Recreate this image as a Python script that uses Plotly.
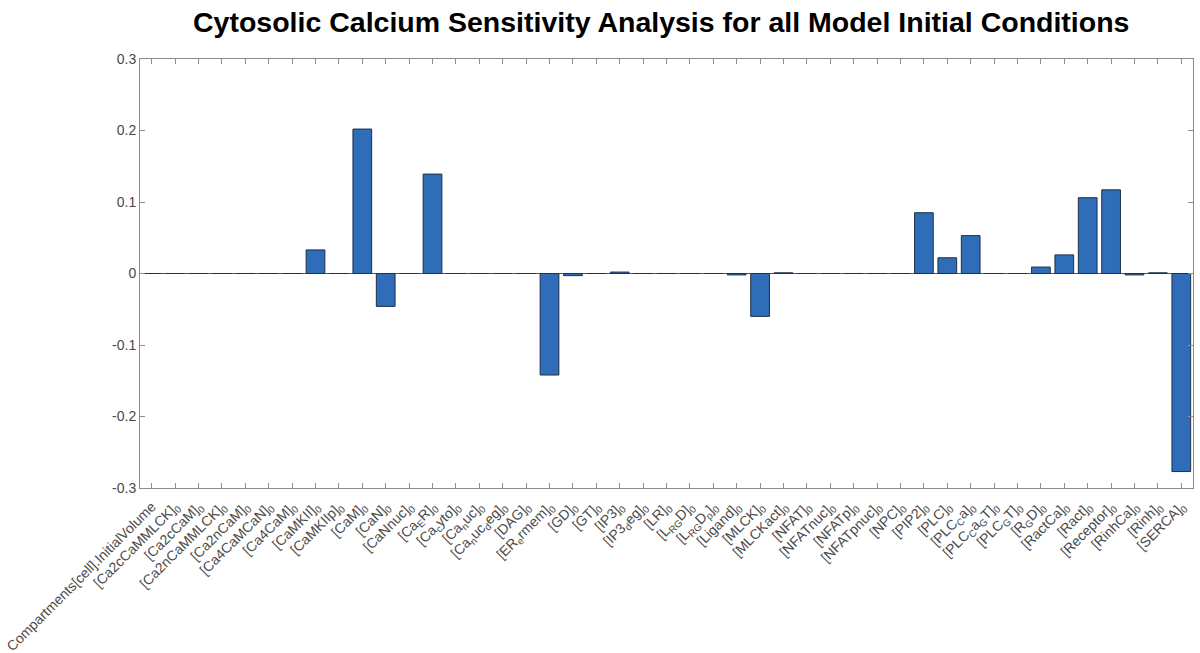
import plotly.graph_objects as go

# Initial-condition parameters (tick labels, with TeX-style subscripts as HTML)
labels = [
    "Compartments[cell].InitialVolume",
    "[Ca2cCaMMLCK]<sub>0</sub>",
    "[Ca2cCaM]<sub>0</sub>",
    "[Ca2nCaMMLCK]<sub>0</sub>",
    "[Ca2nCaM]<sub>0</sub>",
    "[Ca4CaMCaN]<sub>0</sub>",
    "[Ca4CaM]<sub>0</sub>",
    "[CaMKII]<sub>0</sub>",
    "[CaMKIIp]<sub>0</sub>",
    "[CaM]<sub>0</sub>",
    "[CaN]<sub>0</sub>",
    "[CaNnuc]<sub>0</sub>",
    "[Ca<sub>E</sub>R]<sub>0</sub>",
    "[Ca<sub>c</sub>yto]<sub>0</sub>",
    "[Ca<sub>n</sub>uc]<sub>0</sub>",
    "[Ca<sub>n</sub>uc<sub>d</sub>eg]<sub>0</sub>",
    "[DAG]<sub>0</sub>",
    "[ER<sub>e</sub>rmem]<sub>0</sub>",
    "[GD]<sub>0</sub>",
    "[GT]<sub>0</sub>",
    "[IP3]<sub>0</sub>",
    "[IP3<sub>d</sub>eg]<sub>0</sub>",
    "[LR]<sub>0</sub>",
    "[L<sub>RG</sub>D]<sub>0</sub>",
    "[L<sub>RG</sub>D<sub>p</sub>]<sub>0</sub>",
    "[Ligand]<sub>0</sub>",
    "[MLCK]<sub>0</sub>",
    "[MLCKact]<sub>0</sub>",
    "[NFAT]<sub>0</sub>",
    "[NFATnuc]<sub>0</sub>",
    "[NFATp]<sub>0</sub>",
    "[NFATpnuc]<sub>0</sub>",
    "[NPC]<sub>0</sub>",
    "[PIP2]<sub>0</sub>",
    "[PLC]<sub>0</sub>",
    "[PLC<sub>C</sub>a]<sub>0</sub>",
    "[PLC<sub>C</sub>a<sub>G</sub>T]<sub>0</sub>",
    "[PLC<sub>G</sub>T]<sub>0</sub>",
    "[R<sub>G</sub>D]<sub>0</sub>",
    "[RactCa]<sub>0</sub>",
    "[Ract]<sub>0</sub>",
    "[Receptor]<sub>0</sub>",
    "[RinhCa]<sub>0</sub>",
    "[Rinh]<sub>0</sub>",
    "[SERCA]<sub>0</sub>",
]

# Sensitivity of cytosolic calcium to each initial condition
sensitivity = [
    0.0, 0.0, 0.0, 0.0, 0.0, 0.0, 0.0,
    0.033, 0.0, 0.202, -0.046, 0.0, 0.139,
    0.0, 0.0, 0.0, 0.0, -0.142, -0.003, 0.0,
    0.002, 0.0, 0.0, 0.0, 0.0, -0.002, -0.060, 0.001,
    0.0, 0.0, 0.0, 0.0, 0.0,
    0.085, 0.022, 0.053, 0.0, 0.0, 0.009, 0.026,
    0.106, 0.117, -0.002, 0.001, -0.277,
]

y_ticks = [-0.3, -0.2, -0.1, 0, 0.1, 0.2, 0.3]
y_tick_text = ["-0.3", "-0.2", "-0.1", "0", "0.1", "0.2", "0.3"]

positions = list(range(len(labels)))

fig = go.Figure(
    go.Bar(
        x=positions,
        y=sensitivity,
        marker=dict(color="#2f6db8", line=dict(color="#1f2f45", width=1)),
        width=0.8,
    )
)

axis_color = "#8c8c8c"
tick_font = dict(family="Liberation Sans, Arial, sans-serif", size=14, color="#4a4a4a")

fig.update_layout(
    width=1200,
    height=653,
    margin=dict(l=140, r=7, t=59, b=165),
    paper_bgcolor="white",
    plot_bgcolor="white",
    showlegend=False,
    title=dict(
        text="<b>Cytosolic Calcium Sensitivity Analysis for all Model Initial Conditions</b>",
        x=0.495,
        xref="paper",
        y=1 - 22 / 653,
        yref="container",
        yanchor="middle",
        font=dict(family="Liberation Sans, Arial, sans-serif", size=28.5, color="black"),
    ),
)

fig.update_xaxes(
    range=[-0.5, len(labels) - 0.5],
    tickmode="array",
    tickvals=positions,
    ticktext=labels,
    tickangle=-45,
    tickfont=tick_font,
    ticks="inside",
    ticklen=5,
    tickcolor=axis_color,
    ticklabelstandoff=4,
    showline=True,
    linecolor=axis_color,
    linewidth=1,
    mirror="ticks",
    showgrid=False,
    zeroline=False,
    automargin=False,
)

fig.update_yaxes(
    range=[-0.3, 0.3],
    tickmode="array",
    tickvals=y_ticks,
    ticktext=y_tick_text,
    tickfont=tick_font,
    ticks="inside",
    ticklen=5,
    tickcolor=axis_color,
    showline=True,
    linecolor=axis_color,
    linewidth=1,
    mirror="ticks",
    showgrid=False,
    zeroline=True,
    zerolinecolor="#555555",
    zerolinewidth=1,
    automargin=False,
)

fig.write_html("out.html")
